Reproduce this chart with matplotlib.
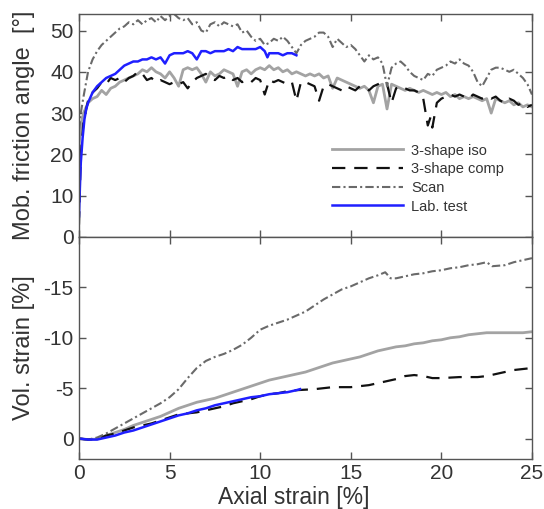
import numpy as np
import matplotlib
matplotlib.use("Agg")
import matplotlib.pyplot as plt

plt.rcParams['font.family'] = ['Liberation Sans', 'DejaVu Sans']

# ---------------- data: top panel (mobilised friction angle, deg) ----------------
scan_x = [0, 0.1, 0.25, 0.5, 0.75, 1, 1.25, 1.5, 1.75, 2, 2.25, 2.5, 2.75, 3, 3.25, 3.5, 3.75, 4,
          4.25, 4.5, 4.75, 5, 5.25, 5.5, 5.75, 6, 6.25, 6.5, 6.75, 7, 7.25, 7.5, 7.75, 8, 8.25, 8.5,
          8.75, 9, 9.25, 9.5, 9.75, 10, 10.25, 10.5, 10.75, 11, 11.25, 11.5, 11.75, 12, 12.25, 12.5,
          12.75, 13, 13.25, 13.5, 13.75, 14, 14.25, 14.5, 14.75, 15, 15.25, 15.5, 15.75, 16, 16.25,
          16.5, 16.75, 17, 17.25, 17.5, 17.75, 18, 18.25, 18.5, 18.75, 19, 19.25, 19.5, 19.75, 20,
          20.25, 20.5, 20.75, 21, 21.25, 21.5, 21.75, 22, 22.25, 22.5, 22.75, 23, 23.25, 23.5, 23.75,
          24, 24.25, 24.5, 24.75, 25]
scan_phi = [26, 30, 34, 40, 43, 45, 46.5, 47.5, 48.5, 49.5, 50.5, 51, 52, 51.5, 52.5, 51.5, 52.5, 53,
            52, 53.5, 52.5, 53.5, 54, 53, 52.5, 53, 51.5, 52, 50, 49.5, 51.5, 52, 51, 52, 51.5, 51,
            51.5, 49.5, 50, 48.5, 47.5, 48, 46.5, 47, 48, 47.5, 48.5, 47.5, 46, 44.5, 46.5, 47.5,
            48, 48.5, 49.5, 49.5, 48.5, 46, 48, 47, 46, 46.5, 45.5, 44, 42.5, 44, 43,
            43.5, 42, 36.5, 41, 42, 42.5, 41.5, 40, 39, 38.5, 38, 39.5, 39, 40.5, 41,
            41.5, 42.5, 42, 43, 42, 41.5, 40, 37.5, 36.5, 38.5, 40.5, 41, 41, 40.5, 40,
            40.5, 39.5, 38.5, 37, 34.5]

iso_x = scan_x
iso_phi = [22, 27, 30, 32.5, 33.5, 34, 35.5, 34.5, 36, 36.5, 37.5, 38, 38.5, 39, 39.5, 40.5, 40, 41,
           40, 39.5, 38.5, 40, 38.5, 36.5, 40.5, 41, 40.5, 41, 39.5, 37.5, 40, 39, 39.5, 40.5, 40, 39.5,
           36.5, 40, 40.5, 39.5, 40.5, 41, 40.5, 41.5, 40.5, 41, 40, 40.5, 39.5, 40, 39.5, 39,
           39.5, 39, 39.5, 38.5, 39, 36, 38.5, 38, 37.5, 37, 36.5, 36, 36.5, 35.5, 32.5,
           36.5, 37, 31, 37, 36.5, 36, 35.5, 36, 35.5, 35, 35.5, 35, 34.5, 35, 34.5,
           35, 34, 34.5, 33.5, 34, 33.5, 34, 33.5, 33, 33.5, 30, 33.5, 33, 32.5, 33,
           32, 32.5, 31.5, 32, 31.5]

comp_x = [0, 0.1, 0.25, 0.5, 0.75, 1, 1.25, 1.5, 1.75, 2, 2.25, 2.5, 2.75, 3, 3.25, 3.5, 3.75, 4,
          4.25, 4.5, 4.75, 5, 5.25, 5.5, 5.75, 6, 6.25, 6.5, 6.75, 7, 7.25, 7.5, 7.75, 8, 8.25, 8.5,
          8.75, 9, 9.25, 9.5, 9.75, 10, 10.25, 10.5, 10.75, 11, 11.25, 11.5, 11.75, 12, 12.25, 12.5,
          12.75, 13, 13.25, 13.5, 13.75, 14, 14.25, 14.5, 14.75, 15, 15.25, 15.5, 15.75, 16, 16.25,
          16.5, 16.75, 17, 17.25, 17.5, 17.75, 18, 18.25, 18.5, 18.75, 19, 19.25, 19.4, 19.5, 19.75,
          20, 20.25, 20.5, 20.75, 21, 21.25, 21.5, 21.75, 22, 22.25, 22.5, 22.75, 23, 23.25, 23.5,
          23.75, 24, 24.25, 24.5, 24.75, 25]
comp_phi = [3, 20, 28, 33, 35, 36, 37.5, 37, 38.5, 38, 38.5, 37.5, 38.5, 39, 40, 39.5, 38, 38.5,
            37.5, 38, 37.5, 37, 37.5, 37, 37.5, 36, 37.5, 38.5, 39, 39.5, 38.5, 38, 39, 38.5, 39, 38,
            38.5, 37.5, 38, 37.5, 38.5, 38, 34.5, 38, 37.5, 38, 37.5, 37, 37.5, 33, 37.5, 37.5,
            37, 36.5, 33, 36.5, 37, 36.5, 36, 35.5, 36.5, 36, 35.5, 36.5, 36, 35.5, 36.5,
            37, 37.5, 37, 32.5, 36, 36.5, 36, 35.5, 35.5, 35, 33.5, 27, 29, 26.5, 32.5,
            33.5, 34, 34.5, 34, 34.5, 34, 33.5, 34.5, 34, 33.5, 34, 33.5, 34, 33, 32.5,
            33.5, 33, 32, 32.5, 31.5, 32]

lab_x = [0, 0.05, 0.1, 0.2, 0.3, 0.4, 0.5, 0.75, 1, 1.25, 1.5, 1.75, 2, 2.25, 2.5, 2.75, 3, 3.25,
         3.5, 3.75, 4, 4.25, 4.5, 4.75, 5, 5.25, 5.5, 5.75, 6, 6.25, 6.5, 6.75, 7, 7.25, 7.5, 7.75,
         8, 8.25, 8.5, 8.75, 9, 9.25, 9.5, 9.75, 10, 10.25, 10.4, 10.5, 10.75, 11, 11.25, 11.5,
         11.75, 12]
lab_phi = [5, 12, 18, 24, 28.5, 31, 32.5, 35, 36.5, 37.5, 38.5, 39, 39.5, 40.5, 41.5, 42, 42.5, 42.5,
           43, 43, 43.5, 43, 43.5, 42, 44, 44.5, 44.5, 44.5, 45, 44.5, 43, 45, 45, 44.5, 45, 45,
           45, 45.5, 45, 46, 45.5, 45.5, 45.5, 45.5, 46, 45, 43.5, 44.5, 44.5, 44.5, 44, 44.5,
           44.5, 44]

# ---------------- data: bottom panel (volumetric strain, %) ----------------
scan_vx = [0, 0.5, 1, 1.5, 2, 2.5, 3, 3.5, 4, 4.5, 5, 5.5, 6, 6.5, 7, 7.5, 8, 8.5, 9, 9.5, 10,
           10.5, 11, 11.5, 12, 12.5, 13, 13.5, 14, 14.5, 15, 15.5, 16, 16.5, 16.9, 17.2, 17.5, 18,
           18.5, 19, 19.5, 20, 20.5, 21, 21.5, 22, 22.5, 22.8, 23.5, 24, 24.5, 25]
scan_vol = [0, 0.1, -0.1, -0.5, -1.0, -1.5, -2.0, -2.5, -3.0, -3.5, -4.1, -4.9, -6.0, -7.0, -7.7,
            -8.1, -8.4, -8.8, -9.3, -10.0, -10.8, -11.2, -11.5, -11.8, -12.2, -12.6, -13.2, -13.8,
            -14.3, -14.8, -15.1, -15.5, -15.9, -16.2, -16.5, -15.9, -15.9, -16.1, -16.3, -16.4,
            -16.6, -16.7, -16.9, -17.0, -17.2, -17.3, -17.5, -17.1, -17.2, -17.5, -17.7, -17.9]

iso_vx = [0, 0.5, 1, 1.5, 2, 2.5, 3, 3.5, 4, 4.5, 5, 5.5, 6, 6.5, 7, 7.5, 8, 8.5, 9, 9.5, 10, 10.5,
          11, 11.5, 12, 12.5, 13, 13.5, 14, 14.5, 15, 15.5, 16, 16.5, 17, 17.5, 18, 18.5, 19, 19.5,
          20, 20.5, 21, 21.5, 22, 22.5, 23, 23.5, 24, 24.5, 25]
iso_vol = [0, 0.1, 0.05, -0.3, -0.6, -0.9, -1.3, -1.6, -1.9, -2.2, -2.6, -3.0, -3.3, -3.6, -3.8,
           -4.0, -4.3, -4.6, -4.9, -5.2, -5.5, -5.8, -6.0, -6.2, -6.4, -6.6, -6.9, -7.2, -7.5, -7.7,
           -7.9, -8.1, -8.4, -8.7, -8.9, -9.1, -9.2, -9.4, -9.5, -9.7, -9.8, -10.0, -10.1, -10.3,
           -10.4, -10.5, -10.5, -10.5, -10.5, -10.5, -10.6]

comp_vx = [0, 0.5, 1, 1.5, 2, 2.5, 3, 3.5, 4, 4.5, 5, 5.5, 6, 6.5, 7, 7.5, 8, 8.5, 9, 9.5, 10, 10.5,
           11, 11.5, 12, 13, 14, 15, 16, 16.5, 17, 17.5, 18, 18.5, 19, 19.5, 20, 21, 22, 22.5, 23,
           23.5, 24, 25]
comp_vol = [0, 0.1, 0.05, -0.3, -0.5, -0.8, -1.1, -1.3, -1.5, -1.8, -2.1, -2.4, -2.5, -2.6, -2.8,
            -3.0, -3.2, -3.5, -3.7, -3.9, -4.2, -4.4, -4.5, -4.7, -4.8, -4.9, -5.1, -5.1, -5.3,
            -5.5, -5.7, -5.9, -6.2, -6.3, -6.2, -6.0, -6.0, -6.1, -6.1, -6.2, -6.4, -6.6, -6.8,
            -7.0]

lab_vx = [0, 0.5, 1, 1.5, 2, 2.5, 3, 3.5, 4, 4.5, 5, 5.5, 6, 6.5, 7, 7.5, 8, 8.5, 9, 9.5, 10, 10.5,
          11, 11.5, 12, 12.2]
lab_vol = [0, 0.1, 0.1, -0.1, -0.3, -0.6, -0.8, -1.1, -1.4, -1.7, -2.0, -2.3, -2.5, -2.8, -3.0,
           -3.3, -3.5, -3.7, -3.9, -4.1, -4.2, -4.4, -4.5, -4.6, -4.8, -4.9]

labels = ['3-shape iso', '3-shape comp', 'Scan', 'Lab. test']
x_ticks = [0, 5, 10, 15, 20, 25]
top_yticks = [0, 10, 20, 30, 40, 50]
bot_yticks = [0, -5, -10, -15]

# ---------------- styling ----------------
c_iso = '#a3a3a3'
c_comp = '#111111'
c_scan = '#6a6a6a'
c_lab = '#1f1fff'
txt = '#333333'
spine_c = '#555555'

fig = plt.figure(figsize=(5.44, 5.09), dpi=100)
ax1 = fig.add_axes([0.1452, 0.5344, 0.8327, 0.4381])
ax2 = fig.add_axes([0.1452, 0.0988, 0.8327, 0.4356])


def style(ax):
    for s in ax.spines.values():
        s.set_color(spine_c)
        s.set_linewidth(1.0)
    ax.tick_params(direction='in', length=5, width=1.0, color=spine_c, labelcolor=txt,
                   labelsize=15, top=True, right=True, pad=4)


def draw(ax, data):
    (ix, iy), (cx, cy), (sx, sy), (lx, ly) = data
    ax.plot(ix, iy, color=c_iso, lw=2.0, label=labels[0])
    ax.plot(cx, cy, color=c_comp, lw=1.6, dashes=(6, 4), label=labels[1])
    ax.plot(sx, sy, color=c_scan, lw=1.5, dashes=(4, 1.5, 1, 1.5), label=labels[2])
    ax.plot(lx, ly, color=c_lab, lw=1.8, label=labels[3])


draw(ax1, [(iso_x, iso_phi), (comp_x, comp_phi), (scan_x, scan_phi), (lab_x, lab_phi)])
draw(ax2, [(iso_vx, iso_vol), (comp_vx, comp_vol), (scan_vx, scan_vol), (lab_vx, lab_vol)])

for ax in (ax1, ax2):
    style(ax)
    ax.set_xlim(0, 25)
    ax.set_xticks(x_ticks)

ax1.set_ylim(0, 54)
ax1.set_yticks(top_yticks)
ax1.set_xticklabels([])

ax2.set_ylim(2, -20)
ax2.set_yticks(bot_yticks)
ax2.set_yticklabels([str(v) for v in bot_yticks])
ax2.set_xticklabels([str(v) for v in x_ticks])

ax1.set_ylabel('Mob. friction angle  [°]', fontsize=17, color=txt)
ax2.set_ylabel('Vol. strain [%]', fontsize=17, color=txt)
ax1.yaxis.set_label_coords(-0.097, 0.5)
ax2.yaxis.set_label_coords(-0.097, 0.5)
ax2.set_xlabel('Axial strain [%]', fontsize=16.5, color=txt)
ax2.xaxis.set_label_coords(0.474, -0.125)

leg = ax1.legend(loc='upper left', bbox_to_anchor=(0.5585, 0.419), frameon=False, fontsize=10.5,
                 handlelength=4.9, handletextpad=0.55, labelspacing=0.32, borderaxespad=0.0,
                 borderpad=0.0)
for t in leg.get_texts():
    t.set_color(txt)

fig.savefig('out.png', dpi=100)
